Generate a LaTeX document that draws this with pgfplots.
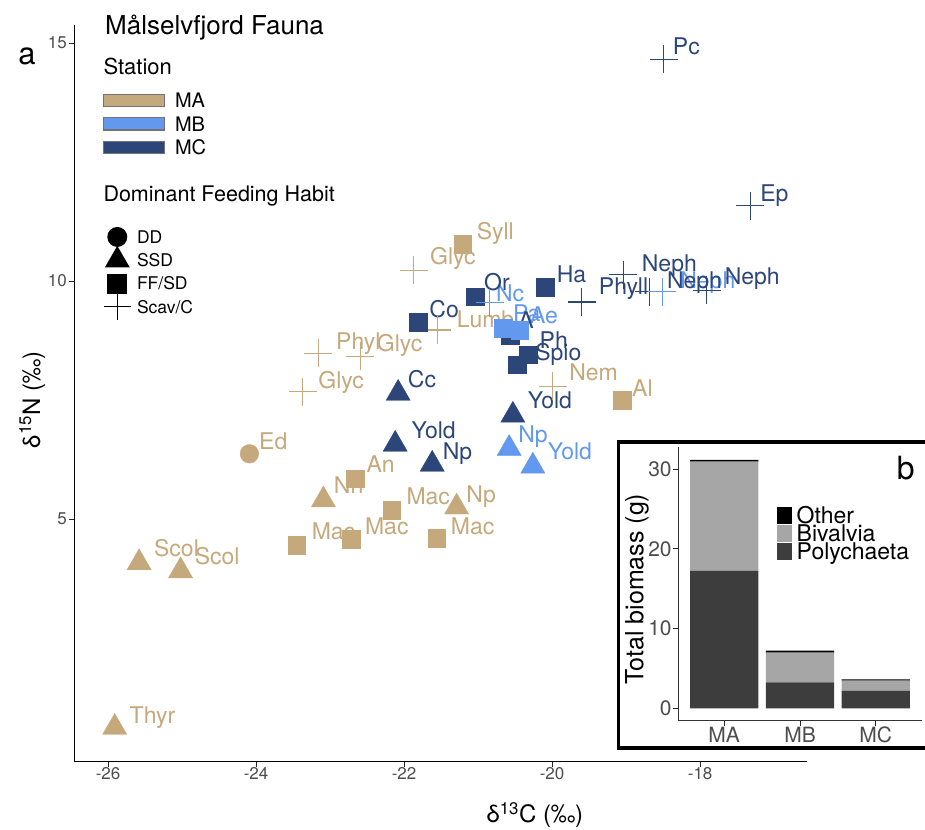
\documentclass[border=0pt]{standalone}
\usepackage{fontspec}
\setmainfont{TeX Gyre Heros}
\usepackage{pgfplots}
\pgfplotsset{compat=1.18}
\usepackage{pgfplotstable}
\definecolor{MAc}{RGB}{197,168,123}
\definecolor{MBc}{RGB}{98,152,238}
\definecolor{MCc}{RGB}{44,70,122}
\definecolor{polyc}{RGB}{61,61,61}
\definecolor{bivc}{RGB}{166,166,166}
\definecolor{tickc}{RGB}{77,77,77}
\newcommand{\fs}[1]{\fontsize{#1bp}{#1bp}\selectfont}

% ---- points ----
\pgfplotstableread{
x y
-25.91 0.62
-25.58 4.08
-25.02 3.91
-23.09 5.40
-21.29 5.25
}\maTri
\pgfplotstableread{
x y
-22.66 5.85
-23.45 4.45
-22.72 4.57
-22.17 5.19
-21.56 4.59
-21.21 10.78
-19.05 7.50
}\maSq
\pgfplotstableread{
x y
-24.09 6.37
}\maCirc
\pgfplotstableread{
x y
-23.37 7.67
-23.16 8.48
-22.59 8.42
-21.87 10.23
-21.55 8.97
-19.99 7.79
}\maPlus
\pgfplotstableread{
x y
-20.84 9.54
-18.51 9.78
}\mbPlus
\pgfplotstableread{
x y
-20.66 9.01
-20.44 8.97
}\mbSq
\pgfplotstableread{
x y
-20.58 6.48
-20.26 6.11
}\mbTri
\pgfplotstableread{
x y
-22.08 7.64
-22.12 6.57
-21.62 6.15
-20.53 7.18
}\mcTri
\pgfplotstableread{
x y
-21.81 9.14
-21.04 9.67
-20.57 8.87
-20.32 8.45
-20.47 8.24
-20.09 9.87
}\mcSq
\pgfplotstableread{
x y
-19.60 9.56
-19.04 10.13
-18.69 9.78
-17.91 9.81
-18.49 14.66
-17.32 11.58
}\mcPlus

% ---- labels (base-left positions) ----
\pgfplotstableread{
x y label
-25.71 0.71 Thyr
-25.38 4.22 Scol
-24.83 4.04 Scol
-23.96 6.46 Ed
-22.95 5.53 Nn
-22.51 5.97 An
-23.25 4.57 Mac
-22.53 4.67 Mac
-21.97 5.30 Mac
-21.37 4.68 Mac
-21.16 5.35 Np
-23.16 7.75 Glyc
-22.92 8.56 Phyl
-22.37 8.52 Glyc
-21.65 10.34 Glyc
-21.02 10.87 Syll
-21.29 9.03 Lumb
-19.77 7.90 Nem
-18.92 7.58 Al
}\labMA
\pgfplotstableread{
x y label
-20.76 9.56 Nc
-20.53 9.16 Pa
-20.30 9.10 Ae
-20.46 6.60 Np
-20.06 6.24 Yold
-18.27 9.85 Neph
}\labMB
\pgfplotstableread{
x y label
-21.95 7.77 Cc
-21.90 6.69 Yold
-21.48 6.25 Np
-20.33 7.33 Yold
-21.66 9.24 Co
-20.92 9.80 Or
-20.46 9.01 A
-20.17 8.59 Ph
-20.23 8.32 Spio
-19.94 9.96 Ha
-19.37 9.71 Phyll
-18.79 10.20 Neph
-18.45 9.85 Neph
-17.67 9.92 Neph
-18.37 14.75 Pc
-17.19 11.67 Ep
}\labMC

\pgfplotsset{
  lab/.style={forget plot, only marks, mark=none, nodes near coords,
    point meta=explicit symbolic,
    nodes near coords style={anchor=base west, inner sep=0pt, font=\fs{23}, text=#1}},
  tri/.style={forget plot, only marks, color=#1, mark=triangle*, mark size=14bp, mark options={fill=#1, draw=#1, line width=0.3bp}},
  sq/.style={forget plot, only marks, color=#1, mark=square*, mark size=8.85bp, mark options={fill=#1, draw=#1, line width=0.3bp}},
  circ/.style={forget plot, only marks, color=#1, mark=*, mark size=9.35bp, mark options={fill=#1, draw=#1, line width=0.3bp}},
  pls/.style={forget plot, only marks, color=#1, mark=+, mark size=14bp, mark options={draw=#1, line width=1.1bp}},
}

\begin{document}
\begin{tikzpicture}
\useasboundingbox (0bp,0bp) rectangle (925bp,830bp);

\begin{axis}[
  at={(74bp,68.3bp)}, anchor=south west,
  scale only axis, width=732.7bp, height=736.7bp,
  xmin=-26.46, xmax=-16.56, ymin=-0.1, ymax=15.38,
  axis lines=left, axis line style={-, line width=1bp, black},
  xtick={-26,-24,-22,-20,-18}, ytick={5,10,15},
  tick align=outside, major tick length=5bp,
  tick style={line width=0.9bp, color=black!85},
  tick label style={font=\fs{17}, text=tickc},
  /pgf/number format/assume math mode=true,
  xticklabel style={inner sep=0pt, yshift=-1bp},
  yticklabel style={inner sep=0pt, xshift=-2bp},
  xlabel={\fs{24}δ\textsuperscript{13}C (‰)},
  xlabel style={at={(axis description cs:0.629,-0.0832)}, anchor=base, inner sep=0pt},
  ylabel={\fs{24}δ\textsuperscript{15}N (‰)},
  ylabel style={at={(axis description cs:-0.0464,0.491)}, anchor=base, inner sep=0pt},
  legend cell align=left,
  legend style={at={(0.0396,0.9135)}, anchor=north west, draw=none, fill=none,
    inner sep=0pt, outer sep=0pt, row sep=0pt,
    nodes={inner sep=0pt, outer sep=0pt, text height=14.4bp, text depth=0pt, font=\fs{20}},
    /tikz/every odd column/.append style={column sep=10bp}},
]
% labels first
\addplot[lab=MAc] table[meta=label] {\labMA};
\addplot[lab=MBc] table[meta=label] {\labMB};
\addplot[lab=MCc] table[meta=label] {\labMC};
% points
\addplot[tri=MAc] table {\maTri};
\addplot[sq=MAc] table {\maSq};
\addplot[circ=MAc] table {\maCirc};
\addplot[pls=MAc] table {\maPlus};
\addplot[tri=MCc] table {\mcTri};
\addplot[sq=MCc] table {\mcSq};
\addplot[pls=MCc] table {\mcPlus};
\addplot[tri=MBc] table {\mbTri};
\addplot[sq=MBc] table {\mbSq};
\addplot[pls=MBc] table {\mbPlus};
% station legend
\addlegendimage{legend image code/.code={\path[draw=none, fill=none] (0bp,-11.75bp) rectangle (62bp,11.75bp); \path[overlay, fill=MAc, draw=black!55, line width=1.4bp] (0.7bp,-6.2bp) rectangle (61.3bp,6.2bp);}}
\addlegendentry{MA}
\addlegendimage{legend image code/.code={\path[draw=none, fill=none] (0bp,-11.75bp) rectangle (62bp,11.75bp); \path[overlay, fill=MBc, draw=black!55, line width=1.4bp] (0.7bp,-6.2bp) rectangle (61.3bp,6.2bp);}}
\addlegendentry{MB}
\addlegendimage{legend image code/.code={\path[draw=none, fill=none] (0bp,-11.75bp) rectangle (62bp,11.75bp); \path[overlay, fill=MCc, draw=black!55, line width=1.4bp] (0.7bp,-6.2bp) rectangle (61.3bp,6.2bp);}}
\addlegendentry{MC}
\end{axis}

% feeding habit legend (hidden axis)
\begin{axis}[
  at={(74bp,68.3bp)}, anchor=south west,
  scale only axis, width=732.7bp, height=736.7bp,
  xmin=0, xmax=1, ymin=0, ymax=1, hide axis,
  legend cell align=left,
  legend style={at={(0.0400,0.7281)}, anchor=north west, draw=none, fill=none,
    inner sep=0pt, outer sep=0pt, row sep=0pt,
    nodes={inner sep=0pt, outer sep=0pt, text height=12.6bp, text depth=0pt, font=\fs{17.5}},
    /tikz/every odd column/.append style={column sep=5.7bp}},
]
\addplot[draw=none, forget plot] coordinates {(0.5,0.5)};
\addlegendimage{legend image code/.code={\path[draw=none, fill=none] (0bp,-11.65bp) rectangle (28bp,11.65bp); \path[overlay, fill=black, draw=none] (14bp,0bp) circle[radius=10bp];}}
\addlegendentry{DD}
\addlegendimage{legend image code/.code={\path[draw=none, fill=none] (0bp,-11.65bp) rectangle (28bp,11.65bp); \path[overlay, fill=black, draw=none] (14bp,14.4bp) -- (1.53bp,-7.2bp) -- (26.47bp,-7.2bp) -- cycle;}}
\addlegendentry{SSD}
\addlegendimage{legend image code/.code={\path[draw=none, fill=none] (0bp,-11.65bp) rectangle (28bp,11.65bp); \path[overlay, fill=black, draw=none] (4bp,-10bp) rectangle (24bp,10bp);}}
\addlegendentry{FF/SD}
\addlegendimage{legend image code/.code={\path[draw=none, fill=none] (0bp,-11.65bp) rectangle (28bp,11.65bp); \path[overlay, draw=black, fill=none, line width=1.1bp] (0.5bp,0bp) -- (27.5bp,0bp) (14bp,-13bp) -- (14bp,13bp);}}
\addlegendentry{Scav/C}
\end{axis}

% titles
\node[anchor=base west, inner sep=0pt] at (105bp,795bp) {\fs{26}Målselvfjord Fauna};
\node[anchor=base west, inner sep=0pt] at (103.3bp,755bp) {\fs{22}Station};
\node[anchor=base west, inner sep=0pt] at (103.3bp,628.3bp) {\fs{21.5}Dominant Feeding Habit};
\node[anchor=base west, inner sep=0pt] at (18.3bp,765bp) {\fs{31}a};

% inset
\draw[line width=3.5bp, fill=white] (618.5bp,82bp) rectangle (928bp,388bp);
\begin{axis}[
  at={(678.3bp,109.3bp)}, anchor=south west,
  scale only axis, width=243.4bp, height=274bp,
  xmin=0.394, xmax=3.606, ymin=-1.56, ymax=32.8,
  axis lines=left, axis line style={-, line width=1bp, black!80},
  ybar stacked, bar width=68.3bp,
  xtick={1,2,3}, xticklabels={MA,MB,MC}, ytick={0,10,20,30},
  tick align=outside, major tick length=5bp,
  tick style={line width=0.9bp, color=black!85},
  tick label style={font=\fs{21}, text=tickc},
  /pgf/number format/assume math mode=true,
  xticklabel style={inner sep=0pt, yshift=-1bp},
  yticklabel style={inner sep=0pt, xshift=-1.5bp},
  ylabel={\fs{25}Total biomass (g)},
  ylabel style={at={(axis description cs:-0.1438,0.4807)}, anchor=base, inner sep=0pt},
  reverse legend,
  legend cell align=left,
  legend style={at={(0.4043,0.7841)}, anchor=north west, draw=none, fill=none,
    inner sep=0pt, outer sep=0pt, row sep=0pt,
    nodes={inner sep=0pt, outer sep=0pt, text height=16.6bp, text depth=0pt, font=\fs{23}},
    /tikz/every odd column/.append style={column sep=5bp}},
]
\addplot[fill=polyc, draw=none, legend image code/.code={\path[draw=none, fill=none] (0bp,-9.15bp) rectangle (15bp,9.15bp); \path[overlay, fill=polyc, draw=none] (0bp,-8.5bp) rectangle (15bp,8.5bp);}] coordinates {(1,17.26) (2,3.26) (3,2.21)};
\addlegendentry{Polychaeta}
\addplot[fill=bivc, draw=none, legend image code/.code={\path[draw=none, fill=none] (0bp,-9.15bp) rectangle (15bp,9.15bp); \path[overlay, fill=bivc, draw=none] (0bp,-8.5bp) rectangle (15bp,8.5bp);}] coordinates {(1,13.68) (2,3.72) (3,1.25)};
\addlegendentry{Bivalvia}
\addplot[fill=black, draw=none, legend image code/.code={\path[draw=none, fill=none] (0bp,-9.15bp) rectangle (15bp,9.15bp); \path[overlay, fill=black, draw=none] (0bp,-8.5bp) rectangle (15bp,8.5bp);}] coordinates {(1,0.2) (2,0.25) (3,0.17)};
\addlegendentry{Other}
\end{axis}
\node[anchor=base west, inner sep=0pt] at (896.7bp,350bp) {\fs{32}b};
\end{tikzpicture}
\end{document}
